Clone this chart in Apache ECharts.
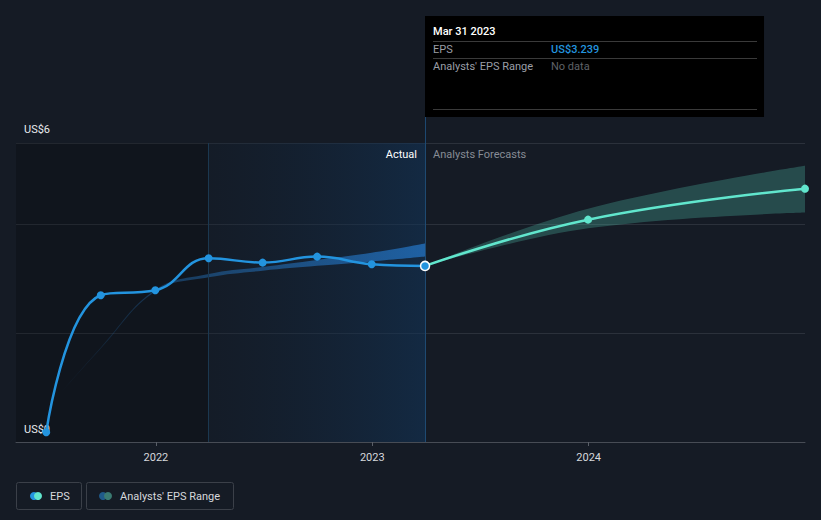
<!DOCTYPE html>
<html>
<head>
<meta charset="utf-8">
<script src="https://cdn.jsdelivr.net/npm/echarts@6/dist/echarts.min.js"></script>
<style>
    html, body { margin: 0; padding: 0; background: #151b25; }
    #echart { width: 821px; height: 520px; }
</style>
</head>
<body>
<div id="echart"></div>
<script>
// actual EPS (quarterly, trailing)
const epsDates = ['2021-06-30', '2021-09-30', '2021-12-31', '2022-03-31', '2022-06-30', '2022-09-30', '2022-12-31', '2023-03-31'];
const epsValues = [0.18, 2.70, 2.79, 3.38, 3.30, 3.41, 3.27, 3.239];

// analysts forecast
const fcDates = ['2023-03-31', '2023-12-31', '2024-12-31'];
const fcValues = [3.239, 4.09, 4.66];
const fcLow = [3.239, 3.93, 4.22];
const fcHigh = [3.239, 4.29, 5.08];

// past analysts range
const pastDates = ['2021-06-30', '2021-09-30', '2021-12-31', '2022-03-31', '2022-06-30', '2022-09-30', '2022-12-31', '2023-03-31'];
const pastLow = [0.6, 1.72, 2.77, 3.03, 3.15, 3.24, 3.32, 3.41];
const pastHigh = [0.6, 1.74, 2.80, 3.09, 3.22, 3.35, 3.48, 3.65];

const yearTicks = ['2022-01-01', '2023-01-01', '2024-01-01'];
const xMin = '2021-05-10';
const xMax = '2024-12-31';
const nowDate = '2023-03-31';
const splitDate = '2022-03-31';

const FONT = 'Roboto, "Noto Sans", sans-serif';
const BLUE = '#2394df';
const TEAL = '#61e6cd';

let Echart = echarts.init(document.getElementById('echart'), null, {renderer: 'svg'});

function ts(d) {
    return +new Date(d + 'T00:00:00Z');
}
function pairs(dates, vals) {
    return dates.map((d, i) => [ts(d), vals[i]]);
}

let epsData = pairs(epsDates, epsValues);
epsData[epsData.length - 1] = {
    value: epsData[epsData.length - 1],
    symbolSize: 9,
    itemStyle: {borderColor: '#ffffff', borderWidth: 1.5}
};
let fcData = pairs(fcDates, fcValues);
fcData[0] = {value: fcData[0], symbol: 'none'};

let option = {
    backgroundColor: '#151b25',
    animation: false,
    textStyle: {fontFamily: FONT},
    grid: {left: 16, right: 16, top: 143, bottom: 78},
    xAxis: [{
        // visible axis (value, so the year ticks can be placed exactly)
        type: 'value',
        min: ts(xMin),
        max: ts(xMax),
        axisLine: {lineStyle: {color: '#474c55', width: 1}},
        axisTick: {
            show: true,
            length: 4,
            lineStyle: {color: '#5a5f68'},
            customValues: yearTicks.map(ts)
        },
        axisLabel: {
            color: '#d6d8dc',
            fontSize: 11,
            margin: 10,
            customValues: yearTicks.map(ts),
            formatter: v => String(new Date(v).getUTCFullYear())
        },
        splitLine: {show: false}
    }, {
        // hidden time axis, same extent; lets the range bands stack on y
        type: 'time',
        min: ts(xMin),
        max: ts(xMax),
        show: false
    }],
    yAxis: {
        type: 'value',
        min: 0,
        max: 5.5,
        interval: 2,
        axisLine: {show: false},
        axisTick: {show: false},
        axisLabel: {show: false},
        splitLine: {lineStyle: {color: '#2b313b', width: 1}}
    },
    series: [
        {
            name: 'pastLow',
            type: 'line',
            xAxisIndex: 1,
            stack: 'past',
            smooth: 0.4,
            symbol: 'none',
            lineStyle: {opacity: 0},
            data: pairs(pastDates, pastLow),
            silent: true,
            z: 2,
            markArea: {
                silent: true,
                data: [
                    [{xAxis: ts(xMin), itemStyle: {color: 'rgba(0, 0, 0, 0.2)'}}, {xAxis: ts(splitDate)}],
                    [{
                        xAxis: ts(splitDate),
                        itemStyle: {
                            color: new echarts.graphic.LinearGradient(0, 0, 1, 0, [
                                {offset: 0, color: 'rgba(18, 30, 45, 0.3)'},
                                {offset: 1, color: 'rgba(18, 52, 88, 0.58)'}
                            ]),
                            borderWidth: 0
                        }
                    }, {xAxis: ts(nowDate)}]
                ]
            },
            markLine: {
                silent: true,
                symbol: 'none',
                label: {show: false},
                data: [
                    {xAxis: ts(splitDate), lineStyle: {color: '#1b3850', width: 1, type: 'solid'}},
                    {xAxis: ts(nowDate), lineStyle: {color: '#1e4a72', width: 1, type: 'solid'}}
                ]
            }
        },
        {
            name: 'pastRange',
            type: 'line',
            xAxisIndex: 1,
            stack: 'past',
            smooth: 0.4,
            symbol: 'none',
            lineStyle: {opacity: 0},
            silent: true,
            z: 2,
            areaStyle: {
                opacity: 1,
                color: new echarts.graphic.LinearGradient(0, 0, 1, 0, [
                    {offset: 0, color: 'rgba(35, 110, 180, 0)'},
                    {offset: 0.35, color: 'rgba(35, 110, 180, 0.45)'},
                    {offset: 1, color: 'rgba(35, 115, 195, 0.75)'}
                ])
            },
            data: pastDates.map((d, i) => [ts(d), pastHigh[i] - pastLow[i]])
        },
        {
            name: 'fcLow',
            type: 'line',
            xAxisIndex: 1,
            stack: 'fc',
            smooth: 0.4,
            symbol: 'none',
            lineStyle: {opacity: 0},
            silent: true,
            z: 2,
            data: pairs(fcDates, fcLow)
        },
        {
            name: 'fcRange',
            type: 'line',
            xAxisIndex: 1,
            stack: 'fc',
            smooth: 0.4,
            symbol: 'none',
            lineStyle: {opacity: 0},
            silent: true,
            z: 2,
            areaStyle: {opacity: 1, color: 'rgba(80, 190, 170, 0.3)'},
            data: fcDates.map((d, i) => [ts(d), fcHigh[i] - fcLow[i]])
        },
        {
            name: 'Forecast',
            type: 'line',
            smooth: 0.45,
            symbol: 'circle',
            symbolSize: 8,
            showSymbol: true,
            lineStyle: {color: TEAL, width: 2.5},
            itemStyle: {color: TEAL},
            z: 4,
            data: fcData
        },
        {
            name: 'EPS',
            type: 'line',
            smooth: 0.45,
            symbol: 'circle',
            symbolSize: 8,
            showSymbol: true,
            lineStyle: {color: BLUE, width: 2.5},
            itemStyle: {color: BLUE},
            z: 5,
            data: epsData
        }
    ]
};
Echart.setOption(option);

// overlay texts: y labels, section labels, tooltip box and legend
let nowX = Echart.convertToPixel({xAxisIndex: 0}, ts(nowDate));
let gray = '#9a9ea6';
let graphic = [
    {type: 'text', x: nowX - 8, y: 154, style: {text: 'Actual', fill: '#ffffff', font: '11px ' + FONT, align: 'right', verticalAlign: 'middle'}},
    {type: 'text', x: nowX + 8, y: 154, style: {text: 'Analysts Forecasts', fill: '#878c95', font: '11px ' + FONT, align: 'left', verticalAlign: 'middle'}},
    // tooltip
    {type: 'line', shape: {x1: nowX + 0.5, y1: 117, x2: nowX + 0.5, y2: 143}, style: {stroke: '#1e4a72', lineWidth: 1}},
    {type: 'rect', shape: {x: nowX, y: 16, width: 339, height: 101}, style: {fill: '#000000'}},
    {type: 'text', x: nowX + 8, y: 31, style: {text: 'Mar 31 2023', fill: '#ffffff', font: '500 11px ' + FONT, verticalAlign: 'middle'}},
    {type: 'line', shape: {x1: nowX + 8, y1: 41.5, x2: nowX + 332, y2: 41.5}, style: {stroke: '#3a3a3a', lineWidth: 1}},
    {type: 'text', x: nowX + 8, y: 49.5, style: {text: 'EPS', fill: gray, font: '11px ' + FONT, verticalAlign: 'middle'}},
    {type: 'text', x: nowX + 126, y: 49.5, style: {text: 'US$3.239', fill: BLUE, font: '500 11px ' + FONT, verticalAlign: 'middle'}},
    {type: 'line', shape: {x1: nowX + 8, y1: 58.5, x2: nowX + 332, y2: 58.5}, style: {stroke: '#3a3a3a', lineWidth: 1}},
    {type: 'text', x: nowX + 8, y: 66.5, style: {text: "Analysts' EPS Range", fill: gray, font: '11px ' + FONT, verticalAlign: 'middle'}},
    {type: 'text', x: nowX + 126, y: 66.5, style: {text: 'No data', fill: '#5f6268', font: '11px ' + FONT, verticalAlign: 'middle'}},
    {type: 'line', shape: {x1: nowX + 8, y1: 109.5, x2: nowX + 332, y2: 109.5}, style: {stroke: '#3a3a3a', lineWidth: 1}},
    // legend
    {type: 'rect', shape: {x: 16.5, y: 482.5, width: 65, height: 27, r: 2}, style: {fill: 'none', stroke: '#3b4049', lineWidth: 1}},
    {type: 'circle', shape: {cx: 34, cy: 496, r: 4}, style: {fill: BLUE}},
    {type: 'circle', shape: {cx: 38, cy: 496, r: 4}, style: {fill: TEAL}},
    {type: 'text', x: 50, y: 496, style: {text: 'EPS', fill: '#d6d8dc', font: '11px ' + FONT, verticalAlign: 'middle'}},
    {type: 'rect', shape: {x: 86.5, y: 482.5, width: 147, height: 27, r: 2}, style: {fill: 'none', stroke: '#3b4049', lineWidth: 1}},
    {type: 'circle', shape: {cx: 103, cy: 496, r: 4}, style: {fill: '#1f5a8a'}},
    {type: 'circle', shape: {cx: 108, cy: 496, r: 4}, style: {fill: '#3a7a72'}},
    {type: 'text', x: 120, y: 496, style: {text: "Analysts' EPS Range", fill: '#d6d8dc', font: '11px ' + FONT, verticalAlign: 'middle'}}
];
graphic.forEach(g => { g.z = 100; });
// y labels sit under the line marks (the first EPS dot covers US$0)
graphic.push(
    {type: 'text', left: 24, top: 124, z: 3, style: {text: 'US$6', fill: '#e8eaee', font: '11px ' + FONT}},
    {type: 'text', left: 24, top: 424, z: 3, style: {text: 'US$0', fill: '#e8eaee', font: '11px ' + FONT}}
);
Echart.setOption({graphic: graphic});
</script>
</body>
</html>
